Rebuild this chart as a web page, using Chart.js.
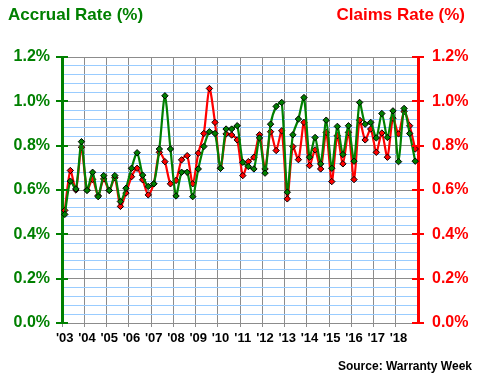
<!DOCTYPE html>
<html>
<head>
<meta charset="utf-8">
<script src="https://cdn.jsdelivr.net/npm/chart.js@4"></script>
<style>
  html, body { margin: 0; padding: 0; background: #fff; }
  #wrap { position: relative; width: 480px; height: 380px; }
  canvas { position: absolute; left: 0; top: 0; }
  .t { position: absolute; font-family: "Liberation Sans", Arial, sans-serif; font-weight: bold; white-space: nowrap; }
  #tl { left: 8px; top: 6px; font-size: 17px; line-height: 17px; color: #008000; }
  #tr { right: 15px; top: 6px; font-size: 17px; line-height: 17px; color: #ff0000; }
  #src { right: 8px; top: 360px; font-size: 12px; line-height: 12px; color: #000; }
</style>
</head>
<body>
<div id="wrap">
  <canvas id="c" width="480" height="380"></canvas>
  <div class="t" id="tl">Accrual Rate (%)</div>
  <div class="t" id="tr">Claims Rate (%)</div>
  <div class="t" id="src">Source: Warranty Week</div>
</div>
<script>
const years = ["2003","2004","2005","2006","2007","2008","2009","2010","2011","2012","2013","2014","2015","2016","2017","2018"];
const yearLabels = ["'03","'04","'05","'06","'07","'08","'09","'10","'11","'12","'13","'14","'15","'16","'17","'18"];
const quarters = ["Q1","Q2","Q3","Q4"];
const categories = years.flatMap(y => quarters.map(q => y + " " + q));

const accrualRate = [
  0.490, 0.640, 0.605, 0.818, 0.598, 0.680, 0.570, 0.665,
  0.598, 0.665, 0.548, 0.608, 0.698, 0.768, 0.667, 0.616,
  0.628, 0.785, 1.025, 0.785, 0.573, 0.680, 0.680, 0.570,
  0.695, 0.796, 0.863, 0.855, 0.698, 0.875, 0.875, 0.890,
  0.725, 0.706, 0.695, 0.835, 0.676, 0.897, 0.977, 0.995,
  0.590, 0.849, 0.920, 1.017, 0.748, 0.837, 0.718, 0.915,
  0.698, 0.887, 0.760, 0.890, 0.730, 0.995, 0.897, 0.905,
  0.835, 0.945, 0.837, 0.957, 0.728, 0.968, 0.855, 0.730
];
const claimsRate = [
  0.508, 0.688, 0.600, 0.793, 0.600, 0.648, 0.575, 0.650,
  0.598, 0.655, 0.526, 0.586, 0.660, 0.698, 0.646, 0.578,
  0.628, 0.770, 0.728, 0.628, 0.643, 0.736, 0.755, 0.628,
  0.766, 0.855, 1.058, 0.905, 0.698, 0.853, 0.848, 0.826,
  0.665, 0.728, 0.748, 0.849, 0.695, 0.863, 0.778, 0.867,
  0.560, 0.796, 0.737, 0.905, 0.710, 0.781, 0.695, 0.860,
  0.638, 0.845, 0.718, 0.860, 0.647, 0.915, 0.826, 0.875,
  0.770, 0.857, 0.748, 0.924, 0.853, 0.954, 0.890, 0.785
];
const yTickValues = [0, 0.2, 0.4, 0.6, 0.8, 1.0, 1.2];

const GREEN = '#008000', RED = '#ff0000', GRAY = '#8c8c8c', BLUE = '#99ccff';
const FONT = "'Liberation Sans', Arial, sans-serif";
const isMajor = v => Math.abs(v / 0.2 - Math.round(v / 0.2)) < 1e-6;

const axisTicks = {
  id: 'axisTicks',
  afterDraw(chart) {
    const ctx = chart.ctx;
    const pairs = [['y', GREEN], ['y1', RED]];
    ctx.save();
    ctx.lineWidth = 2;
    for (const [id, col] of pairs) {
      const s = chart.scales[id];
      const edge = id === 'y' ? s.right : s.left;
      ctx.strokeStyle = col;
      for (const v of yTickValues) {
        const py = Math.round(s.getPixelForValue(v));
        ctx.beginPath();
        ctx.moveTo(edge - 6, py);
        ctx.lineTo(edge + 6, py);
        ctx.stroke();
      }
    }
    ctx.restore();
  }
};

new Chart(document.getElementById('c'), {
  type: 'line',
  data: {
    labels: categories,
    datasets: [
      {
        label: 'Accrual Rate', data: accrualRate, yAxisID: 'y',
        borderColor: GREEN, borderWidth: 2.2, tension: 0.25,
        pointStyle: 'rectRot', pointRadius: 3.2, pointBackgroundColor: GREEN,
        pointBorderColor: '#000', pointBorderWidth: 1
      },
      {
        label: 'Claims Rate', data: claimsRate, yAxisID: 'y1',
        borderColor: RED, borderWidth: 2.2, tension: 0.25,
        pointStyle: 'rectRot', pointRadius: 3.2, pointBackgroundColor: RED,
        pointBorderColor: '#000', pointBorderWidth: 1
      }
    ]
  },
  options: {
    responsive: false,
    animation: false,
    layout: { padding: { top: 57, left: 0, right: 0, bottom: 0 } },
    plugins: { legend: { display: false }, tooltip: { enabled: false }, title: { display: false } },
    scales: {
      x: {
        type: 'category',
        offset: true,
        grid: {
          offset: true,
          color: c => (c.index !== undefined && c.index % 4 === 0) ? GRAY : 'rgba(0,0,0,0)',
          tickLength: 4,
          lineWidth: 1
        },
        border: { display: true, color: GRAY, width: 1 },
        ticks: {
          autoSkip: false, maxRotation: 0, minRotation: 0, padding: 4,
          color: '#000', font: { family: FONT, size: 13, weight: 'bold' },
          callback: (v, i) => i % 4 === 0 ? yearLabels[i / 4] : ''
        },
        afterFit: s => { s.height = 57; }
      },
      y: {
        position: 'left', min: 0, max: 1.2,
        grid: { color: c => isMajor(c.tick.value) ? GRAY : BLUE, drawTicks: false, lineWidth: 1 },
        border: { display: true, color: GREEN, width: 3 },
        ticks: {
          stepSize: 0.04, autoSkip: false, padding: 12, color: GREEN,
          font: { family: FONT, size: 16, weight: 'bold' },
          callback: v => isMajor(v) ? v.toFixed(1) + '%' : ''
        },
        afterFit: s => { s.width = 62; }
      },
      y1: {
        position: 'right', min: 0, max: 1.2,
        grid: { display: false, drawOnChartArea: false, drawTicks: false },
        border: { display: true, color: RED, width: 3 },
        ticks: {
          stepSize: 0.04, autoSkip: false, padding: 14, color: RED,
          font: { family: FONT, size: 16, weight: 'bold' },
          callback: v => isMajor(v) ? v.toFixed(1) + '%' : ''
        },
        afterFit: s => { s.width = 62; }
      }
    }
  },
  plugins: [axisTicks]
});
</script>
</body>
</html>
